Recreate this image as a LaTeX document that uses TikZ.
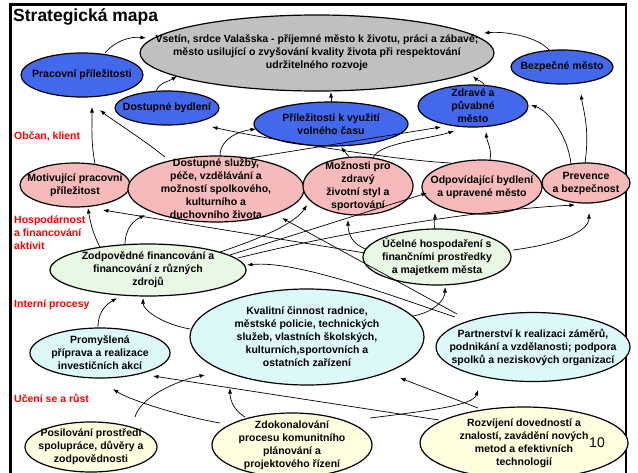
\documentclass[tikz,border=0pt]{standalone}
\usepackage{fontspec}
\setmainfont{Liberation Sans}
\usetikzlibrary{shapes.geometric,arrows.meta,calc}
\definecolor{eblue}{RGB}{68,104,236}
\definecolor{egray}{RGB}{192,192,192}
\definecolor{ered}{RGB}{246,186,186}
\definecolor{egreen}{RGB}{232,248,228}
\definecolor{ecyan}{RGB}{220,248,248}
\definecolor{eyellow}{RGB}{255,255,224}
\begin{document}
\begin{tikzpicture}[x=1pt,y=-1pt,
  ell/.style={ellipse,draw=black,line width=1.2pt,inner sep=0pt,outer sep=0pt},
  tx/.style={font=\bfseries\fontsize{10.5}{13}\selectfont,align=center,inner sep=0pt},
  arr/.style={-{Latex[length=5.5pt,width=4pt]},line width=0.7pt},
  lab/.style={anchor=west,text=red,font=\bfseries\fontsize{10.5}{13}\selectfont,align=left,inner sep=0pt}]
\useasboundingbox (0,0) rectangle (638,472);
\draw[line width=2.6pt] (10.5,4.5) rectangle (626,500);
\node[anchor=west,font=\bfseries\fontsize{17.5}{20}\selectfont,inner sep=0pt] (title) at (13,17) {Strategická mapa};
% top
\node[ell,fill=egray,minimum width=354,minimum height=76,label={[tx]center:{Vsetín, srdce Valašska - příjemné město k životu, práci a zábavě;\\město usilující o zvyšování kvality života při respektování\\udržitelného rozvoje}}] (G) at (317,53) {};
% blue
\node[ell,fill=eblue,minimum width=122,minimum height=44,label={[tx]center:{Pracovní příležitosti}}] (P) at (82,75) {};
\node[ell,fill=eblue,minimum width=104,minimum height=34,label={[tx]center:{Dostupné bydlení}}] (B) at (167,108) {};
\node[ell,fill=eblue,minimum width=154,minimum height=44,label={[tx]center:{Příležitosti k využití\\volného času}}] (V) at (331,124) {};
\node[ell,fill=eblue,minimum width=110,minimum height=42,label={[tx]center:{Zdravé a\\půvabné\\město}}] (Z) at (473,106) {};
\node[ell,fill=eblue,minimum width=102,minimum height=34,label={[tx]center:{Bezpečné město}}] (S) at (562,67) {};
% red
\node[ell,fill=ered,minimum width=110,minimum height=44,label={[tx]center:{Motivující pracovní\\příležitost}}] (M) at (75,185) {};
\node[ell,fill=ered,minimum width=176,minimum height=66,label={[tx]center:{Dostupné služby,\\péče, vzdělávání a\\možností spolkového,\\kulturního a\\duchovního života}}] (D) at (216,189) {};
\node[ell,fill=ered,minimum width=110,minimum height=58,label={[tx]center:{Možnosti pro\\zdravý\\životní styl a\\sportování}}] (H) at (358,186) {};
\node[ell,fill=ered,minimum width=120,minimum height=54,label={[tx]center:{Odpovídající bydlení\\a upravené město}}] (O) at (482,187) {};
\node[ell,fill=ered,minimum width=88,minimum height=40,label={[tx]center:{Prevence\\a bezpečnost}}] (R) at (586,183) {};
% green
\node[ell,fill=egreen,minimum width=196,minimum height=52,label={[tx]center:{Zodpovědné financování a\\financování z různých\\zdrojů}}] (F) at (148,270) {};
\node[ell,fill=egreen,minimum width=148,minimum height=56,label={[tx]center:{Účelné hospodaření s\\finančními prostředky\\a majetkem města}}] (U) at (437,257) {};
% cyan
\node[ell,fill=ecyan,minimum width=234,minimum height=96,label={[tx]center:{Kvalitní činnost radnice,\\městské policie, technických\\služeb, vlastních školských,\\kulturních,sportovních a\\ostatních zařízení}}] (K) at (307,337) {};
\node[ell,fill=ecyan,minimum width=194,minimum height=69,label={[tx]center:{Partnerství k realizaci záměrů,\\podnikání a vzdělanosti; podpora\\spolků a neziskových organizací}}] (N) at (533,347) {};
\node[ell,fill=ecyan,minimum width=140,minimum height=50,label={[tx]center:{Promyšlená\\příprava a realizace\\investičních akcí}}] (Pr) at (100,353) {};
% yellow
\node[ell,fill=eyellow,minimum width=132,minimum height=50,label={[tx]center:{Posilování prostředí\\spolupráce, důvěry a\\zodpovědnosti}}] (Po) at (91,447) {};
\node[ell,fill=eyellow,minimum width=160,minimum height=64,label={[tx]center:{Zdokonalování\\procesu komunitního\\plánování a\\projektového řízení}}] (Zd) at (292,445) {};
\node[ell,fill=eyellow,minimum width=208,minimum height=72,label={[tx]center:{Rozvíjení dovedností a\\znalostí, zavádění nových\\metod a efektivních\\technologií}}] (Ro) at (524,443) {};
\node[font=\fontsize{14}{14}\selectfont,inner sep=0pt] (pg) at (597,443) {10};
% labels
\node[lab] (l1) at (14,136) {Občan, klient};
\node[lab] (l2) at (14,233) {Hospodárnost\\a financování\\aktivit};
\node[lab] (l3) at (14,305) {Interní procesy};
\node[lab] (l4) at (14,398) {Učení se a růst};
% arrows to top
\draw[arr] ($(P)+(23,-22)$) .. controls +(8,-10) and +(-18,-2) .. ($(G)+(-171,-15)$);
\draw[arr] ($(B)+(-11,-17)$) .. controls +(4,-9) and +(-9,6) .. ($(G)+(-140,23)$);
\draw[arr] ($(V)+(0,-22)$) -- ($(G)+(14,39)$);
\draw[arr] ($(Z)+(12,-20)$) .. controls +(-2,-5) and +(4,4) .. ($(G)+(156,23)$);
\draw[arr] ($(S)+(-13,-17)$) .. controls +(-10,-12) and +(25,-2) .. ($(G)+(167,-20)$);
% red -> blue
\draw[arr] ($(M)+(20,-21)$) .. controls +(-4,-22) and +(0,22) .. ($(P)+(10,32)$);
\draw[arr] ($(D)+(-51,-32)$) .. controls +(-25,-20) and +(12,10) .. ($(P)+(18,35)$);
\draw[arr] ($(D)+(4,-33)$) .. controls +(0,-18) and +(-16,2) .. ($(V)+(-75,5)$);
\draw[arr] ($(D)+(34,-31)$) -- ($(Z)+(-32,21)$);
\draw[arr] ($(H)+(-8,-28)$) -- ($(V)+(10,23)$);
\draw[arr] ($(H)+(15,-28)$) .. controls +(5,-15) and +(-25,8) .. ($(Z)+(-19,25)$);
\draw[arr] ($(O)+(-31,-24)$) .. controls +(-60,-3) and +(55,12) .. ($(B)+(45,19)$);
\draw[arr] ($(O)+(8,-27)$) .. controls +(2,-12) and +(1,10) .. ($(Z)+(13,26)$);
\draw[arr] ($(R)+(-15,-19)$) .. controls +(-3,-28) and +(18,6) .. ($(Z)+(58,-1)$);
\draw[arr] ($(R)+(-1,-20)$) .. controls +(5,-35) and +(2,15) .. ($(S)+(19,27)$);
% green -> red
\draw[arr] ($(F)+(-48,-23)$) .. controls +(-8,-15) and +(2,12) .. ($(M)+(13,23)$);
\draw[arr] ($(F)+(-23,-25)$) .. controls +(0,-18) and +(-10,5) .. ($(D)+(-71,26)$);
\draw[arr] ($(U)+(-72,-4)$) -- ($(M)+(28,25)$);
\draw[arr] ($(N)+(-76,-33)$) -- ($(D)+(66,29)$);
\draw[arr] ($(N)+(-78,-30)$) .. controls +(-60,-20) and +(50,-5) .. ($(F)+(99,-5)$);
\draw[arr] ($(F)+(72,-18)$) .. controls +(45,-15) and +(-12,18) .. ($(H)+(-51,19)$);
\draw[arr] ($(F)+(82,-15)$) -- ($(O)+(-55,6)$);
\draw[arr] ($(F)+(90,-12)$) .. controls +(100,-25) and +(-100,5) .. ($(R)+(-11,22)$);
\draw[arr] ($(U)+(-71,-8)$) .. controls +(-15,-5) and +(0,12) .. ($(H)+(-10,34)$);
\draw[arr] ($(U)+(-2,-28)$) .. controls +(-2,-7) and +(0,6) .. ($(O)+(-47,26)$);
\draw[arr] ($(U)+(76,-7)$) .. controls +(40,-5) and +(0,20) .. ($(R)+(3,30)$);
% cyan -> green
\draw[arr] ($(K)+(106,-21)$) .. controls +(22,-4) and +(0,12) .. ($(U)+(8,30)$);
\draw[arr] ($(Pr)+(-2,-26)$) .. controls +(0,-16) and +(-10,6) .. ($(F)+(-31,28)$);
\draw[arr] ($(K)+(-117,-8)$) .. controls +(-28,-5) and +(0,12) .. ($(F)+(-5,28)$);
% yellow -> cyan
\draw[arr] ($(Ro)+(-85,-23)$) -- ($(Pr)+(53,23)$);
\draw[arr] ($(Zd)+(-72,-22)$) .. controls +(-45,-8) and +(15,10) .. ($(Pr)+(13,36)$);
\draw[arr] ($(Po)+(44,-30)$) .. controls +(6,-22) and +(-22,4) .. ($(K)+(-102,38)$);
\draw[arr] ($(Zd)+(-47,-28)$) .. controls +(-13,-8) and +(0,10) .. ($(K)+(-77,51)$);
\draw[arr] ($(Ro)+(-46,-35)$) -- ($(K)+(93,41)$);
\draw[arr] ($(Zd)+(78,-27)$) .. controls +(65,-8) and +(-5,15) .. ($(N)+(-55,43)$);
\end{tikzpicture}
\end{document}
